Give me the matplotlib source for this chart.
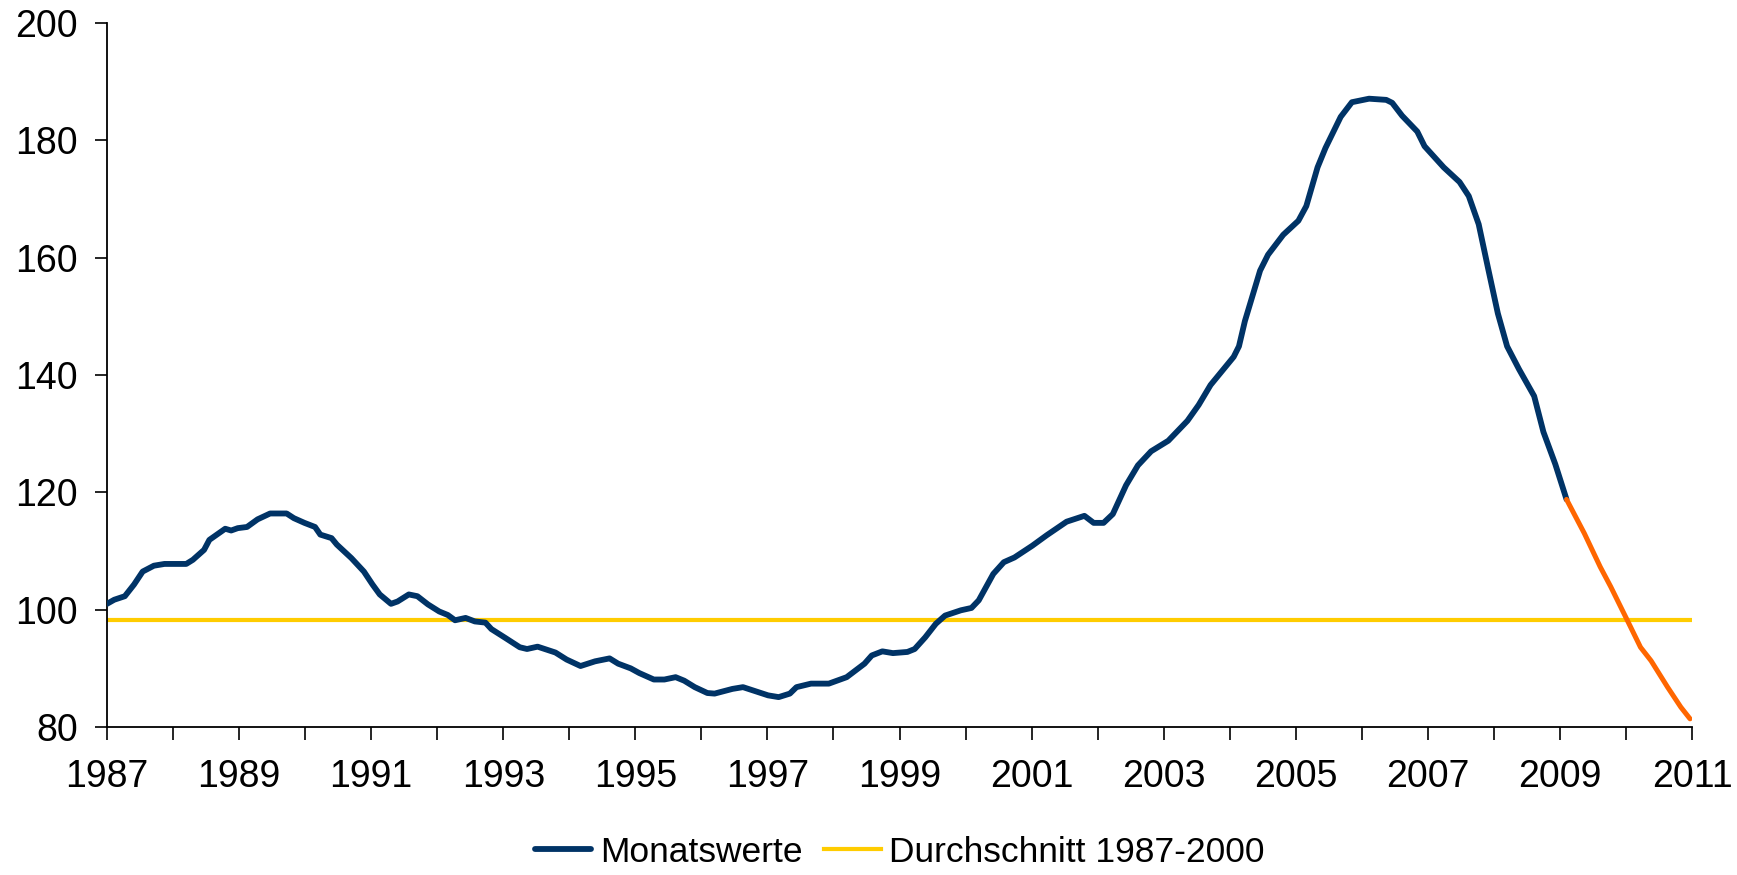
import matplotlib
matplotlib.use("Agg")
import matplotlib.pyplot as plt

plt.rcParams['font.family'] = ['Liberation Sans', 'DejaVu Sans']

# monthly index values (decimal year, value)
years_hist = [1987.00, 1987.11, 1987.27, 1987.41, 1987.54, 1987.71, 1987.87, 1988.20,
              1988.30, 1988.47, 1988.55, 1988.79, 1988.88, 1988.98, 1989.12, 1989.28,
              1989.47, 1989.72, 1989.83, 1989.99, 1990.15, 1990.23, 1990.40, 1990.48,
              1990.70, 1990.89, 1991.02, 1991.13, 1991.30, 1991.40, 1991.57, 1991.70,
              1991.86, 1992.03, 1992.16, 1992.27, 1992.43, 1992.57, 1992.73, 1992.82,
              1993.03, 1993.25, 1993.36, 1993.52, 1993.79, 1993.96, 1994.17, 1994.39,
              1994.61, 1994.74, 1994.93, 1995.06, 1995.28, 1995.44, 1995.61, 1995.74,
              1995.90, 1996.09, 1996.20, 1996.47, 1996.63, 1996.85, 1997.01, 1997.17,
              1997.34, 1997.44, 1997.66, 1997.93, 1998.20, 1998.47, 1998.58, 1998.74,
              1998.90, 1999.12, 1999.23, 1999.39, 1999.55, 1999.69, 1999.93, 2000.09,
              2000.20, 2000.42, 2000.58, 2000.74, 2001.01, 2001.23, 2001.53, 2001.80,
              2001.94, 2002.09, 2002.23, 2002.43, 2002.61, 2002.81, 2003.07, 2003.36,
              2003.53, 2003.71, 2004.06, 2004.14, 2004.23, 2004.46, 2004.58, 2004.81,
              2005.04, 2005.16, 2005.33, 2005.45, 2005.68, 2005.85, 2006.11, 2006.37,
              2006.46, 2006.61, 2006.84, 2006.95, 2007.24, 2007.48, 2007.62, 2007.77,
              2007.91, 2008.06, 2008.20, 2008.38, 2008.61, 2008.75, 2008.93, 2009.10]
values_hist = [101.0, 101.7, 102.3, 104.3, 106.5, 107.5, 107.8, 107.8,
               108.5, 110.2, 111.9, 113.8, 113.5, 113.9, 114.1, 115.4,
               116.4, 116.4, 115.6, 114.8, 114.1, 112.8, 112.2, 111.1,
               108.8, 106.5, 104.3, 102.6, 101.0, 101.4, 102.6, 102.3,
               100.9, 99.7, 99.1, 98.2, 98.6, 98.0, 97.8, 96.7,
               95.2, 93.6, 93.3, 93.7, 92.7, 91.5, 90.4, 91.2,
               91.7, 90.8, 90.0, 89.2, 88.1, 88.1, 88.5, 87.9,
               86.8, 85.8, 85.7, 86.5, 86.8, 86.0, 85.4, 85.1,
               85.7, 86.8, 87.4, 87.4, 88.5, 90.8, 92.2, 92.9,
               92.6, 92.8, 93.3, 95.3, 97.6, 99.0, 99.9, 100.3,
               101.6, 106.1, 108.1, 108.9, 110.9, 112.7, 115.0, 116.0,
               114.8, 114.8, 116.3, 121.2, 124.6, 127.0, 128.8, 132.2,
               134.9, 138.3, 143.1, 144.9, 149.2, 157.8, 160.5, 163.9,
               166.3, 168.8, 175.4, 178.7, 184.0, 186.5, 187.1, 186.9,
               186.4, 184.2, 181.5, 179.0, 175.4, 172.9, 170.5, 165.7,
               158.3, 150.5, 144.9, 141.0, 136.4, 130.3, 124.8, 118.8]

# projection (orange part)
years_proj = [2009.10, 2009.37, 2009.61, 2009.77, 2010.02, 2010.22, 2010.38, 2010.63, 2010.83, 2010.97]
values_proj = [118.8, 113.0, 107.3, 103.9, 98.2, 93.6, 91.3, 86.8, 83.4, 81.4]

avg_years = [1987, 2011]
avg_value = 98.3

fig = plt.figure(figsize=(17.37, 8.75), dpi=100)
ax = fig.add_axes([0.0616, 0.1691, 0.9125, 0.8046])

ax.plot(years_hist, values_hist, color='#003366', lw=4.2, solid_joinstyle='round',
        solid_capstyle='round', label='Monatswerte', zorder=3)
ax.plot(years_proj, values_proj, color='#FF6600', lw=3.6, solid_joinstyle='round',
        solid_capstyle='round', zorder=3)
ax.plot(avg_years, [avg_value, avg_value], color='#FFCC00', lw=3.0,
        label='Durchschnitt 1987-2000', zorder=2)

ax.set_xlim(1987, 2011)
ax.set_ylim(80, 200)
ax.set_yticks(range(80, 201, 20))
xt = list(range(1987, 2012))
ax.set_xticks(xt)
ax.set_xticklabels([str(y) if (y - 1987) % 2 == 0 else '' for y in xt])

for s in ['top', 'right']:
    ax.spines[s].set_visible(False)
for s in ['left', 'bottom']:
    ax.spines[s].set_linewidth(1.3)
ax.tick_params(axis='both', direction='out', length=9, width=1.2, labelsize=27)
ax.tick_params(axis='x', pad=14)
ax.tick_params(axis='y', pad=12)

fig.legend(loc='center', bbox_to_anchor=(0.518, 0.026), ncol=2, frameon=False,
           fontsize=25.5, handlelength=1.6, handletextpad=0.25, columnspacing=0.6,
           borderpad=0.2)

fig.savefig('out.png', dpi=100)
